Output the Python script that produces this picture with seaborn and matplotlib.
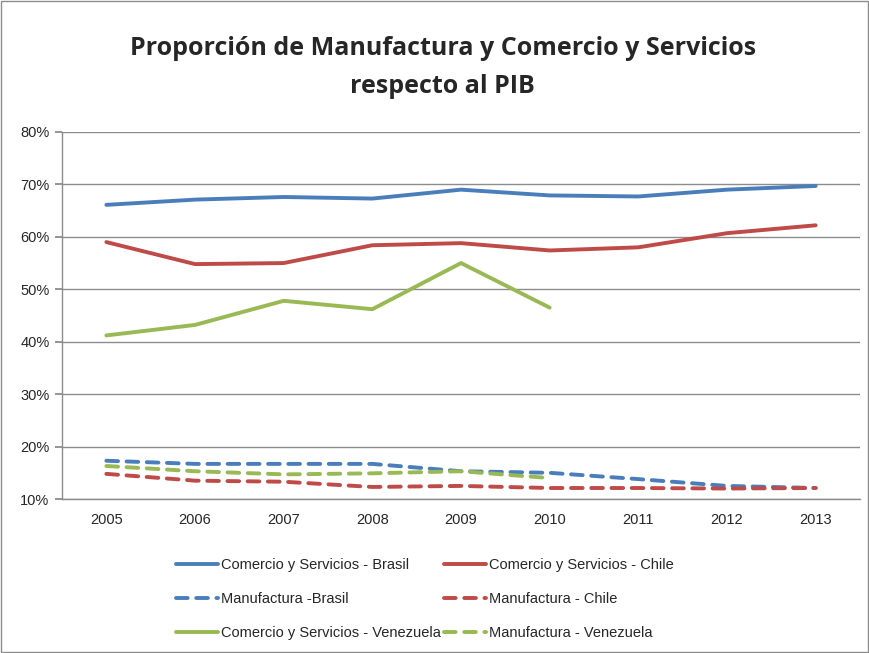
import matplotlib
matplotlib.use("Agg")
import matplotlib.pyplot as plt
import numpy as np
import pandas as pd
import seaborn as sns

# Datos (porcentaje del PIB)
years = [2005, 2006, 2007, 2008, 2009, 2010, 2011, 2012, 2013]
cs_brasil = [66.1, 67.1, 67.6, 67.3, 69.0, 67.9, 67.7, 69.0, 69.7]
cs_chile = [59.0, 54.8, 55.0, 58.4, 58.8, 57.4, 58.0, 60.7, 62.2]
man_brasil = [17.3, 16.7, 16.7, 16.7, 15.3, 15.0, 13.8, 12.5, 12.1]
man_chile = [14.8, 13.5, 13.3, 12.3, 12.5, 12.1, 12.1, 12.0, 12.1]
cs_venezuela = [41.2, 43.2, 47.8, 46.2, 55.0, 46.5]
man_venezuela = [16.3, 15.3, 14.7, 14.9, 15.3, 14.0]

labels = ["Comercio y Servicios - Brasil", "Comercio y Servicios - Chile",
          "Manufactura -Brasil", "Manufactura - Chile",
          "Comercio y Servicios - Venezuela", "Manufactura - Venezuela"]
blue, red, green = "#4A7EBB", "#BE4B48", "#98B954"

series = [
    (labels[0], cs_brasil, blue, "-"),
    (labels[1], cs_chile, red, "-"),
    (labels[2], man_brasil, blue, "--"),
    (labels[3], man_chile, red, "--"),
    (labels[4], cs_venezuela, green, "-"),
    (labels[5], man_venezuela, green, "--"),
]

sns.set_theme(style="white")
plt.rcParams['font.family'] = ['Liberation Sans', 'DejaVu Sans']

fig = plt.figure(figsize=(8.7, 6.53), dpi=100)
ax = fig.add_axes([0.0713, 0.2358, 0.9885 - 0.0713, 0.7979 - 0.2358])

for name, vals, col, ls in series:
    df = pd.DataFrame({"x": np.arange(len(vals)), "y": vals})
    sns.lineplot(data=df, x="x", y="y", ax=ax, color=col, linewidth=2.8,
                 linestyle=ls, label=name, dashes=False)

for l in ax.get_lines():
    if l.get_linestyle() == "--":
        l.set_dashes([3, 2.2])
    l.set_solid_capstyle("round")
    l.set_dash_capstyle("round")

ax.set_xlim(-0.5, len(years) - 0.5)
ax.set_ylim(10, 80)
ax.set_yticks(np.arange(10, 81, 10))
ax.set_yticklabels([f"{v}%" for v in range(10, 81, 10)], fontsize=10.5)
ax.set_xticks(np.arange(len(years)))
ax.set_xticklabels([str(y) for y in years], fontsize=10.5)
ax.set_xticks(np.arange(-0.5, len(years), 1), minor=True)
ax.tick_params(axis="x", which="major", length=0, pad=10)
ax.tick_params(axis="x", which="minor", length=6, color="#888888", direction="out")
ax.tick_params(axis="y", length=5, color="#888888", direction="out", left=True, pad=4)
ax.set_xlabel("")
ax.set_ylabel("")
ax.yaxis.grid(True, color="#8c8c8c", linewidth=1)
ax.xaxis.grid(False)
ax.set_axisbelow(True)
for s in ["top", "right"]:
    ax.spines[s].set_visible(False)
for s in ["left", "bottom"]:
    ax.spines[s].set_color("#8c8c8c")
    ax.spines[s].set_linewidth(1)

fig.text(0.509, 0.897, "Proporción de Manufactura y Comercio y Servicios\nrespecto al PIB",
         ha="center", va="center", fontsize=18, fontweight="bold", linespacing=1.7,
         family=['Open Sans', 'DejaVu Sans'])

# leyenda por filas, como en Excel
handles, lbls = ax.get_legend_handles_labels()
ax.legend_.remove()
order = [0, 2, 4, 1, 3, 5]
leg = fig.legend([handles[i] for i in order], [lbls[i] for i in order],
                 loc="center", bbox_to_anchor=(0.488, 0.0827), ncol=2,
                 frameon=False, fontsize=10.5, handlelength=2.9, handletextpad=0.2,
                 columnspacing=0.2, labelspacing=1.36)

fig.add_artist(plt.Rectangle((0.001, 0.001), 0.997, 0.997, transform=fig.transFigure,
                             fill=False, edgecolor="#8c8c8c", linewidth=1))

fig.savefig("out.png", dpi=100)
